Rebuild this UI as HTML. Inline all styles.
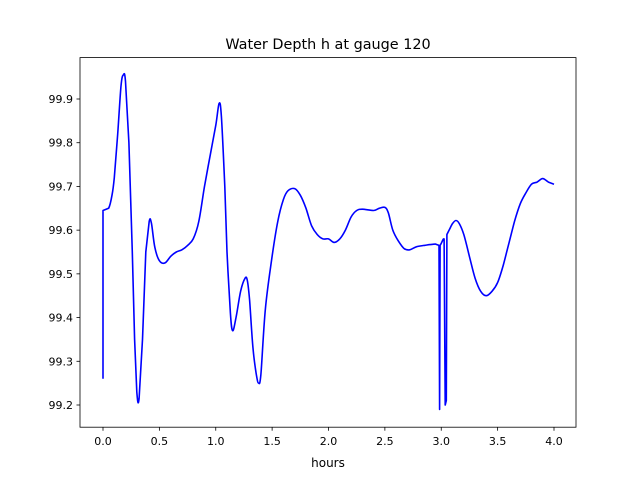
<!DOCTYPE html>
<html><head><meta charset="utf-8"><style>
body{margin:0;background:#fff}
svg{display:block;font-family:"DejaVu Sans","Liberation Sans",sans-serif}
</style></head><body>
<svg id="c" width="640" height="480">
<rect width="640" height="480" fill="#fff"/>
<text x="328" y="49" text-anchor="middle" font-size="14.4">Water Depth h at gauge 120</text>
<g id="g"></g>
<rect x="80" y="57.6" width="496" height="369.6" fill="none" stroke="#000" stroke-width="0.8"/>
<text x="328" y="467" text-anchor="middle" font-size="12">hours</text>
</svg>
<script>
const xs=[0,0,0.05,0.08,0.1,0.13,0.16,0.18,0.2,0.23,0.26,0.28,0.3,0.32,0.35,0.38,0.41,0.43,0.46,0.5,0.55,0.6,0.65,0.7,0.75,0.8,0.85,0.9,0.95,1.0,1.03,1.05,1.08,1.1,1.13,1.15,1.18,1.22,1.26,1.28,1.3,1.33,1.36,1.38,1.4,1.44,1.5,1.55,1.6,1.64,1.7,1.75,1.8,1.85,1.9,1.95,2.0,2.05,2.1,2.15,2.2,2.25,2.3,2.4,2.45,2.5,2.53,2.57,2.62,2.67,2.72,2.78,2.85,2.9,2.95,2.98,2.985,2.99,3.0,3.02,3.025,3.035,3.045,3.05,3.07,3.1,3.13,3.16,3.2,3.25,3.3,3.35,3.4,3.45,3.5,3.55,3.6,3.65,3.7,3.75,3.8,3.85,3.9,3.95,4.0];
const ys=[99.26,99.645,99.65,99.68,99.72,99.82,99.93,99.955,99.94,99.8,99.55,99.35,99.23,99.215,99.35,99.55,99.62,99.615,99.56,99.53,99.525,99.54,99.55,99.555,99.565,99.58,99.62,99.7,99.77,99.84,99.89,99.86,99.7,99.55,99.41,99.37,99.4,99.46,99.49,99.485,99.44,99.33,99.27,99.25,99.27,99.42,99.54,99.62,99.67,99.69,99.695,99.68,99.65,99.61,99.59,99.58,99.58,99.572,99.58,99.6,99.63,99.645,99.648,99.645,99.65,99.652,99.64,99.6,99.575,99.558,99.555,99.562,99.565,99.567,99.568,99.565,99.19,99.565,99.57,99.58,99.58,99.2,99.21,99.59,99.6,99.615,99.622,99.615,99.59,99.54,99.49,99.46,99.45,99.46,99.48,99.52,99.57,99.62,99.66,99.685,99.705,99.71,99.718,99.71,99.705];
const xTicks=[0,0.5,1,1.5,2,2.5,3,3.5,4];
const xLabels=["0.0","0.5","1.0","1.5","2.0","2.5","3.0","3.5","4.0"];
const yTicks=[99.2,99.3,99.4,99.5,99.6,99.7,99.8,99.9];
const yLabels=["99.2","99.3","99.4","99.5","99.6","99.7","99.8","99.9"];
const X=v=>103+v*112.75, Y=v=>405-(v-99.2)*437.14;
const g=document.getElementById('g'),NS='http://www.w3.org/2000/svg';
function mk(t,a,txt){const e=document.createElementNS(NS,t);for(const k in a)e.setAttribute(k,a[k]);if(txt)e.textContent=txt;g.appendChild(e);return e;}
xTicks.forEach((t,i)=>{const l=mk('line',{x1:X(t),x2:X(t),y1:427.2,y2:430.7,stroke:'#000','stroke-width':0.8});

const s=mk('text',{x:X(t),y:445,'text-anchor':'middle','font-size':11},xLabels[i]);
});
yTicks.forEach((t,i)=>{const l=mk('line',{x1:76.5,x2:80,y1:Y(t),y2:Y(t),stroke:'#000','stroke-width':0.8});

const s=mk('text',{x:73,y:Y(t)+4,'text-anchor':'end','font-size':11},yLabels[i]);
});
const P=xs.map((x,i)=>[X(x),Y(ys[i])]);
const jump=i=>i<0||i>=P.length-1||Math.abs(ys[i+1]-ys[i])>0.2;
let d='M'+P[0][0].toFixed(1)+','+P[0][1].toFixed(1);
for(let i=0;i<P.length-1;i++){
  const p1=P[i],p2=P[i+1];
  if(jump(i)||jump(i-1)||jump(i+1)){d+=' L'+p2[0].toFixed(1)+','+p2[1].toFixed(1);continue;}
  const p0=P[i-1]||p1,p3=P[i+2]||p2;
  const c1=[p1[0]+(p2[0]-p0[0])/6,p1[1]+(p2[1]-p0[1])/6],c2=[p2[0]-(p3[0]-p1[0])/6,p2[1]-(p3[1]-p1[1])/6];
  d+=' C'+c1.map(v=>v.toFixed(1)).join(',')+' '+c2.map(v=>v.toFixed(1)).join(',')+' '+p2[0].toFixed(1)+','+p2[1].toFixed(1);
}
const p=mk('path',{d:d,fill:'none',stroke:'#0000ff','stroke-width':1.6,'stroke-linejoin':'round'});

</script>
</body></html>
